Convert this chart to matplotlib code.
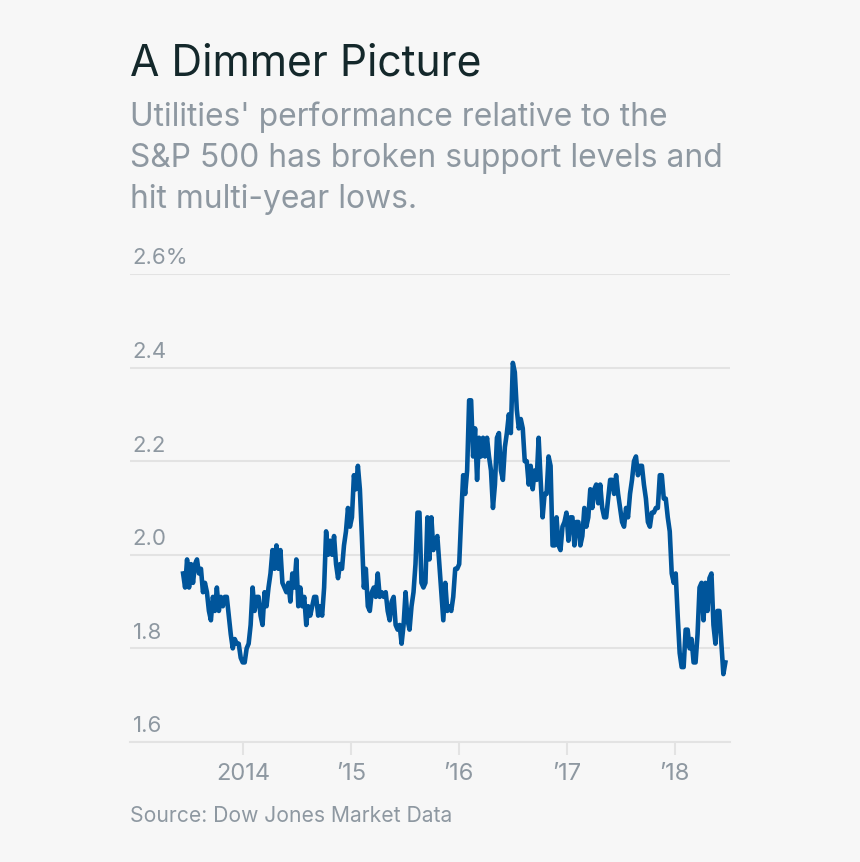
import numpy as np
import matplotlib
matplotlib.use("Agg")
import matplotlib.pyplot as plt

# Utilities relative to S&P 500 (about weekly)
ratio = [
    1.96, 1.93, 1.99, 1.93, 1.98, 1.94, 1.98, 1.99, 1.96, 1.97, 1.92, 1.94, 1.92, 1.88, 1.86, 1.91,
    1.88, 1.93, 1.88, 1.91, 1.89, 1.91, 1.91, 1.87, 1.83, 1.80, 1.82, 1.81, 1.81, 1.78, 1.77, 1.77,
    1.80, 1.81, 1.85, 1.93, 1.88, 1.91, 1.91, 1.87, 1.85, 1.92, 1.89, 1.93, 1.96, 2.01, 1.97, 2.02,
    1.97, 2.01, 1.94, 1.93, 1.92, 1.94, 1.90, 1.96, 1.93, 1.99, 1.89, 1.93, 1.89, 1.91, 1.85, 1.89,
    1.87, 1.89, 1.91, 1.91, 1.87, 1.89, 1.87, 1.93, 2.05, 2.00, 2.03, 2.00, 2.04, 1.98, 1.95, 1.98,
    1.97, 2.02, 2.05, 2.10, 2.06, 2.08, 2.17, 2.14, 2.19, 2.14, 2.04, 1.93, 1.97, 1.89, 1.88, 1.92,
    1.93, 1.91, 1.96, 1.91, 1.92, 1.91, 1.92, 1.88, 1.86, 1.90, 1.91, 1.85, 1.84, 1.85, 1.81, 1.85,
    1.92, 1.86, 1.84, 1.89, 1.92, 1.98, 2.09, 2.09, 1.94, 1.93, 1.94, 2.08,
    1.99, 2.08, 2.01, 2.03, 2.04, 1.98, 1.92, 1.86, 1.94, 1.88, 1.89, 1.88, 1.91, 1.97, 1.97, 1.98,
    2.08, 2.17, 2.13, 2.18, 2.33, 2.33, 2.21, 2.27, 2.16, 2.25, 2.21, 2.25, 2.21, 2.25, 2.21, 2.18,
    2.10, 2.15, 2.25, 2.26, 2.18, 2.16, 2.23, 2.26, 2.30, 2.26, 2.41, 2.39, 2.31, 2.27, 2.29, 2.27,
    2.20, 2.20, 2.15, 2.19, 2.14, 2.18, 2.16, 2.25, 2.16, 2.08, 2.13, 2.13, 2.21, 2.19, 2.02, 2.02,
    2.08, 2.02, 2.01, 2.06, 2.07, 2.09, 2.03, 2.08, 2.08, 2.02, 2.07, 2.07, 2.02, 2.04, 2.10, 2.06,
    2.08, 2.14, 2.10, 2.14, 2.15, 2.11, 2.15, 2.10, 2.08, 2.08, 2.12, 2.16, 2.16, 2.13, 2.17, 2.13,
    2.10, 2.07, 2.06, 2.10, 2.08, 2.13, 2.16, 2.20, 2.21, 2.17, 2.19, 2.19, 2.15, 2.12, 2.07, 2.06,
    2.09, 2.09, 2.10, 2.10, 2.17, 2.17, 2.12, 2.12, 2.08, 2.05, 1.96, 1.94, 1.96, 1.87, 1.79, 1.76,
    1.76, 1.84, 1.84, 1.80, 1.82, 1.77, 1.77, 1.83, 1.93, 1.94, 1.86, 1.94, 1.88, 1.95, 1.96, 1.85,
    1.81, 1.88, 1.88, 1.81, 1.745, 1.77,
]
y_ticks = [1.6, 1.8, 2.0, 2.2, 2.4, 2.6]
y_labels = ["1.6", "1.8", "2.0", "2.2", "2.4", "2.6%"]
x_ticks = [2014, 2015, 2016, 2017, 2018]
x_labels = ["2014", "\u201915", "\u201916", "\u201917", "\u201918"]

bg = "#f7f7f7"
gray = "#8e98a1"
grid = "#e3e3e3"

plt.rcParams["font.family"] = ["Inter", "DejaVu Sans"]

W, H = 860, 862
fig = plt.figure(figsize=(W / 100, 8.621), dpi=100, facecolor=bg)
ax = fig.add_axes([130 / W, (H - 742) / H, 600 / W, 468 / H], facecolor=bg)

years = np.linspace(2013.445, 2018.47, len(ratio))
ax.plot(years, ratio, color="#00559b", lw=3.3, solid_joinstyle="round", zorder=3)

ax.set_xlim(2012.953, 2018.513)
ax.set_ylim(1.6, 2.6)

for s in ["top", "left", "right"]:
    ax.spines[s].set_visible(False)
ax.spines["bottom"].set_color(grid)
ax.spines["bottom"].set_linewidth(1.5)

ax.set_yticks(y_ticks)
ax.set_yticklabels([])
ax.tick_params(axis="y", length=0)
ax.grid(axis="y", color=grid, lw=1.5, zorder=1)
ax.set_axisbelow(True)

ax.set_xticks(x_ticks)
ax.set_xticklabels(x_labels, fontsize=17, color=gray)
ax.tick_params(axis="x", length=9, width=1.5, color=grid, pad=6)

# y labels sit above their gridlines
for val, lab in zip(y_ticks, y_labels):
    ax.annotate(lab, xy=(0, val), xycoords=ax.get_yaxis_transform(), xytext=(2, 7),
                textcoords="offset points", fontsize=16, color=gray, ha="left", va="baseline")

fig.text(130 / W, 1 - 75 / H, "A Dimmer Picture", fontsize=30.7, color="#14282b", va="baseline")
sub = ["Utilities' performance relative to the", "S&P 500 has broken support levels and", "hit multi-year lows."]
for i, line in enumerate(sub):
    fig.text(130 / W, 1 - (126 + i * 41) / H, line, fontsize=22.9, color=gray, va="baseline")
fig.text(130 / W, 1 - 822 / H, "Source: Dow Jones Market Data", fontsize=15.2, color=gray, va="baseline")

fig.savefig("out.png", dpi=100, facecolor=bg)
